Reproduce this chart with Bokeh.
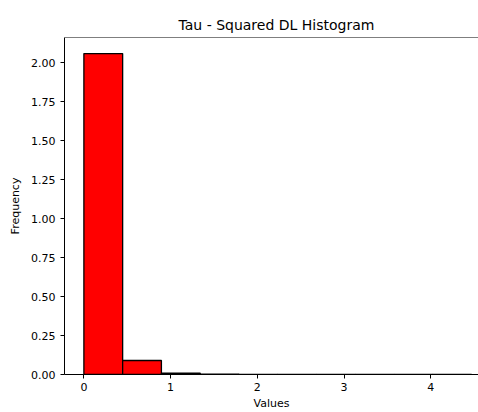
from bokeh.plotting import figure
from bokeh.models import FixedTicker, NumeralTickFormatter, Range1d, Span
from bokeh.embed import file_html
from bokeh.resources import INLINE

# Data
bin_edges = [0.0, 0.447, 0.894, 1.341, 1.788, 2.235, 2.682, 3.129, 3.576, 4.023, 4.47]
densities = [2.06, 0.09, 0.009, 0.002, 0.001, 0.0006, 0.0004, 0.0003, 0.0002, 0.0002]
x_ticks = [0, 1, 2, 3, 4]
y_ticks = [0.0, 0.25, 0.5, 0.75, 1.0, 1.25, 1.5, 1.75, 2.0]

title_text = "Tau - Squared DL Histogram"
x_label = "Values"
y_label = "Frequency"

FONT = "DejaVu Sans"

x_start = -0.2235
x_end = 4.55
y_end = max(densities) * 1.05

p = figure(width=478, height=412, output_backend="svg", toolbar_location=None,
           x_range=Range1d(x_start, x_end), y_range=Range1d(0, y_end),
           min_border_left=64, min_border_right=0, min_border_top=37, min_border_bottom=38)

p.quad(left=bin_edges[:-1], right=bin_edges[1:], bottom=0, top=densities,
       fill_color="#ff0000", line_color="black", line_width=1.3)

p.title.text = title_text
p.title.align = "left"
p.title.offset = 114
p.title.text_font = FONT
p.title.text_font_size = "14px"
p.title.text_font_style = "normal"
p.title.text_color = "black"
p.title.standoff = 9

p.outline_line_color = None
p.grid.visible = False
p.background_fill_color = "white"
p.border_fill_color = "white"

top_line = Span(location=y_end, dimension="width", line_color="black", line_width=1)
p.add_layout(top_line)

for ax in (p.xaxis[0], p.yaxis[0]):
    ax.axis_line_color = "black"
    ax.axis_line_width = 1
    ax.major_tick_line_color = "black"
    ax.major_tick_in = 0
    ax.major_tick_out = 4
    ax.minor_tick_line_color = None
    ax.major_label_text_font = FONT
    ax.major_label_text_font_size = "11px"
    ax.major_label_text_color = "black"
    ax.axis_label_text_font = FONT
    ax.axis_label_text_font_size = "11px"
    ax.axis_label_text_font_style = "normal"
    ax.axis_label_text_color = "black"

p.xaxis[0].ticker = FixedTicker(ticks=x_ticks)
p.yaxis[0].ticker = FixedTicker(ticks=y_ticks)
p.yaxis[0].formatter = NumeralTickFormatter(format="0.00")
p.xaxis[0].axis_label = x_label
p.yaxis[0].axis_label = y_label
p.xaxis[0].major_label_standoff = 4
p.xaxis[0].axis_label_standoff = 3
p.yaxis[0].major_label_standoff = 5
p.yaxis[0].axis_label_standoff = 6

open("out.html", "w").write(file_html(p, INLINE))
